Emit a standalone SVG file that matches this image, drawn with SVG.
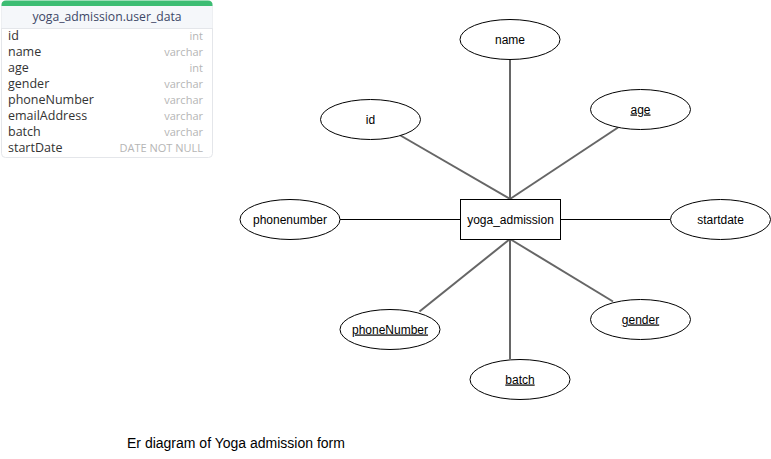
<svg xmlns="http://www.w3.org/2000/svg" width="771" height="459" viewBox="0 0 771 459">
<style>
.ell{fill:#fff;stroke:#000;stroke-width:1}
.lbl{font-family:"Liberation Sans",Arial,sans-serif;font-size:12px;fill:#000;text-anchor:middle}
.u{text-decoration:underline}
.g{stroke:#666;stroke-width:2;fill:none}
.k{stroke:#000;stroke-width:1;fill:none}
.col{font-family:"Open Sans","DejaVu Sans",sans-serif;font-size:12.5px;fill:#333}
.typ{font-family:"Open Sans","DejaVu Sans",sans-serif;font-size:11px;fill:#b5b5b5;text-anchor:end}
</style>
<rect width="771" height="459" fill="#fff"/>
<g id="table">
<rect x="1.5" y="1.5" width="211" height="156" rx="4" fill="#fff" stroke="#e4e6ea"/>
<rect x="1.5" y="4" width="211" height="24" fill="#f5f7fa"/>
<path d="M1.5,5 Q1.5,0.5 6,0.5 L208,0.5 Q212.5,0.5 212.5,5 L212.5,6 L1.5,6 Z" fill="#3dbd73"/>
<line x1="1.5" y1="28.5" x2="212.5" y2="28.5" stroke="#e4e6ea"/>
<text x="107" y="21" font-family="'Open Sans','DejaVu Sans',sans-serif" font-size="12.2" fill="#3d4766" text-anchor="middle">yoga_admission.user_data</text>
<text class="col" x="8" y="40">id</text><text class="typ" x="203" y="40">int</text>
<text class="col" x="8" y="56">name</text><text class="typ" x="203" y="56">varchar</text>
<text class="col" x="8" y="72">age</text><text class="typ" x="203" y="72">int</text>
<text class="col" x="8" y="88">gender</text><text class="typ" x="203" y="88">varchar</text>
<text class="col" x="8" y="104">phoneNumber</text><text class="typ" x="203" y="104">varchar</text>
<text class="col" x="8" y="120">emailAddress</text><text class="typ" x="203" y="120">varchar</text>
<text class="col" x="8" y="136">batch</text><text class="typ" x="203" y="136">varchar</text>
<text class="col" x="8" y="152">startDate</text><text class="typ" x="203" y="152">DATE NOT NULL</text>
</g>
<g id="connectors">
<line class="g" x1="510" y1="59" x2="510" y2="199"/>
<line class="g" x1="400.5" y1="135.5" x2="510" y2="199"/>
<line class="g" x1="618" y1="127.5" x2="510" y2="199"/>
<line class="k" x1="560.5" y1="219.5" x2="670" y2="219.5"/>
<line class="k" x1="340" y1="219.5" x2="460.5" y2="219.5"/>
<line class="g" x1="510" y1="239" x2="419.5" y2="311.5"/>
<line class="g" x1="510" y1="239" x2="510" y2="359"/>
<line class="g" x1="510" y1="239" x2="613" y2="301.5"/>
</g>
<g id="yoga_admission">
<rect x="460.5" y="199.5" width="100" height="40" fill="#fff" stroke="#000"/>
<text class="lbl" x="510.5" y="223.5">yoga_admission</text>
</g>
<g id="name"><ellipse class="ell" cx="510" cy="39.5" rx="50" ry="20"/><text class="lbl" x="510" y="43.5">name</text></g>
<g id="id"><ellipse class="ell" cx="370.5" cy="119.5" rx="50" ry="20"/><text class="lbl" x="370.5" y="123.5">id</text></g>
<g id="age"><ellipse class="ell" cx="640.5" cy="109.5" rx="50" ry="20"/><text class="lbl u" x="640.5" y="113.5">age</text></g>
<g id="startdate"><ellipse class="ell" cx="720.5" cy="219.5" rx="50" ry="20"/><text class="lbl" x="720.5" y="223.5">startdate</text></g>
<g id="phonenumber"><ellipse class="ell" cx="290" cy="219.5" rx="50" ry="20"/><text class="lbl" x="290" y="223.5">phonenumber</text></g>
<g id="phoneNumber"><ellipse class="ell" cx="390" cy="329.5" rx="50" ry="20"/><text class="lbl u" x="390" y="333.5">phoneNumber</text></g>
<g id="batch"><ellipse class="ell" cx="520" cy="379.5" rx="50" ry="20"/><text class="lbl u" x="520" y="383.5">batch</text></g>
<g id="gender"><ellipse class="ell" cx="640.5" cy="319.5" rx="50" ry="20"/><text class="lbl u" x="640.5" y="323.5">gender</text></g>
<text x="127" y="448" font-family="'Liberation Sans',Arial,sans-serif" font-size="14" fill="#000">Er diagram of Yoga admission form</text>
</svg>
